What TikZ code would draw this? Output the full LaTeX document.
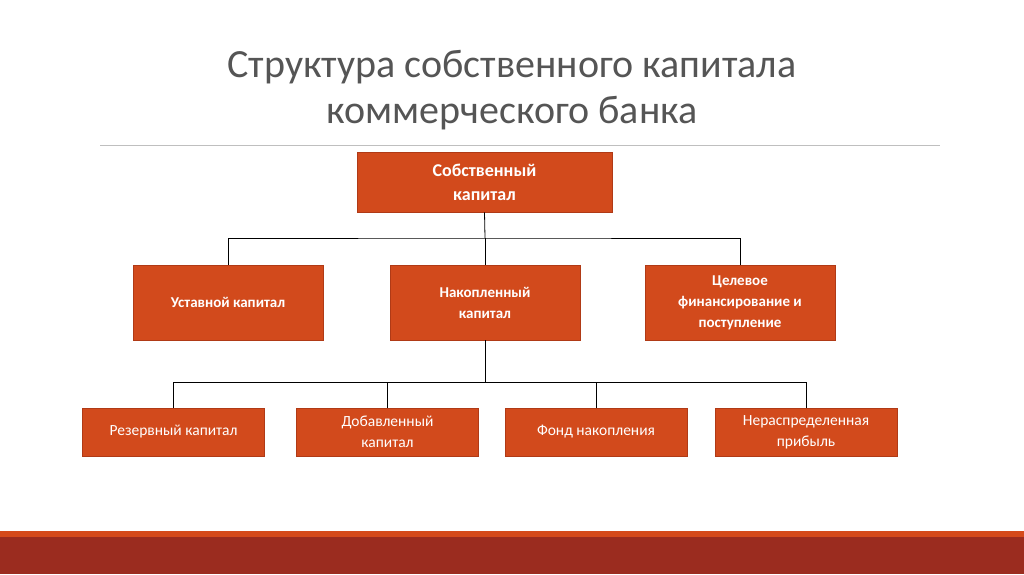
\documentclass[tikz,border=0pt]{standalone}
\usepackage{fontspec}
\setmainfont{Carlito}
\begin{document}
\begin{tikzpicture}[x=1pt,y=-1pt,
  box/.style={draw=boxline,fill=boxfill,text=white,align=center,inner sep=2pt,line width=0.8pt},
  conn/.style={draw=black,line width=0.8pt}]
\definecolor{boxfill}{HTML}{D24A1C}
\definecolor{boxline}{HTML}{B03A16}
\definecolor{bar1}{HTML}{D54A1B}
\definecolor{bar2}{HTML}{9B2C1F}
\definecolor{titlec}{HTML}{555555}
\useasboundingbox (0,0) rectangle (1024,574);
\fill[white] (0,0) rectangle (1024,574);
\fill[bar1] (0,531) rectangle (1024,537);
\fill[bar2] (0,537) rectangle (1024,574);
\node[text=titlec,align=center,font=\fontsize{40}{46}\selectfont] (title) at (512,90) {Структура собственного капитала\\коммерческого банка};
\draw[gray!50,line width=0.8pt] (100,145) -- (940,145);
\node[box,minimum width=255,minimum height=60,font=\fontsize{18}{24}\selectfont\bfseries] (top) at (484.5,182) {Собственный\\капитал};
\foreach \n/\x/\t in {a/228/Уставной капитал,b/485/Накопленный\\капитал,c/740/Целевое\\финансирование и\\поступление}
  \node[box,minimum width=190,minimum height=75,font=\fontsize{15}{21}\selectfont\bfseries] (\n) at (\x,302.5) {\t};
\foreach \n/\x/\t in {d/173.5/Резервный капитал,e/387.5/Добавленный\\капитал,f/596/Фонд накопления,g/806/Нераспределенная\\прибыль}
  \node[box,minimum width=182,minimum height=48,font=\fontsize{15.5}{21}\selectfont] (\n) at (\x,432) {\t};
\coordinate (j1) at (485,238);
\coordinate (j2) at (485,382);
\draw[conn] (top.south) -- (j1);
\draw[conn] (a.north) |- (j1) -| (c.north);
\draw[conn] (j1) -- (b.north);
\draw[conn] (b.south) -- (j2);
\draw[conn] (d.north) |- (j2) -| (g.north);
\draw[conn] (e.north) -- (e.north |- j2);
\draw[conn] (f.north) -- (f.north |- j2);
\end{tikzpicture}
\end{document}
